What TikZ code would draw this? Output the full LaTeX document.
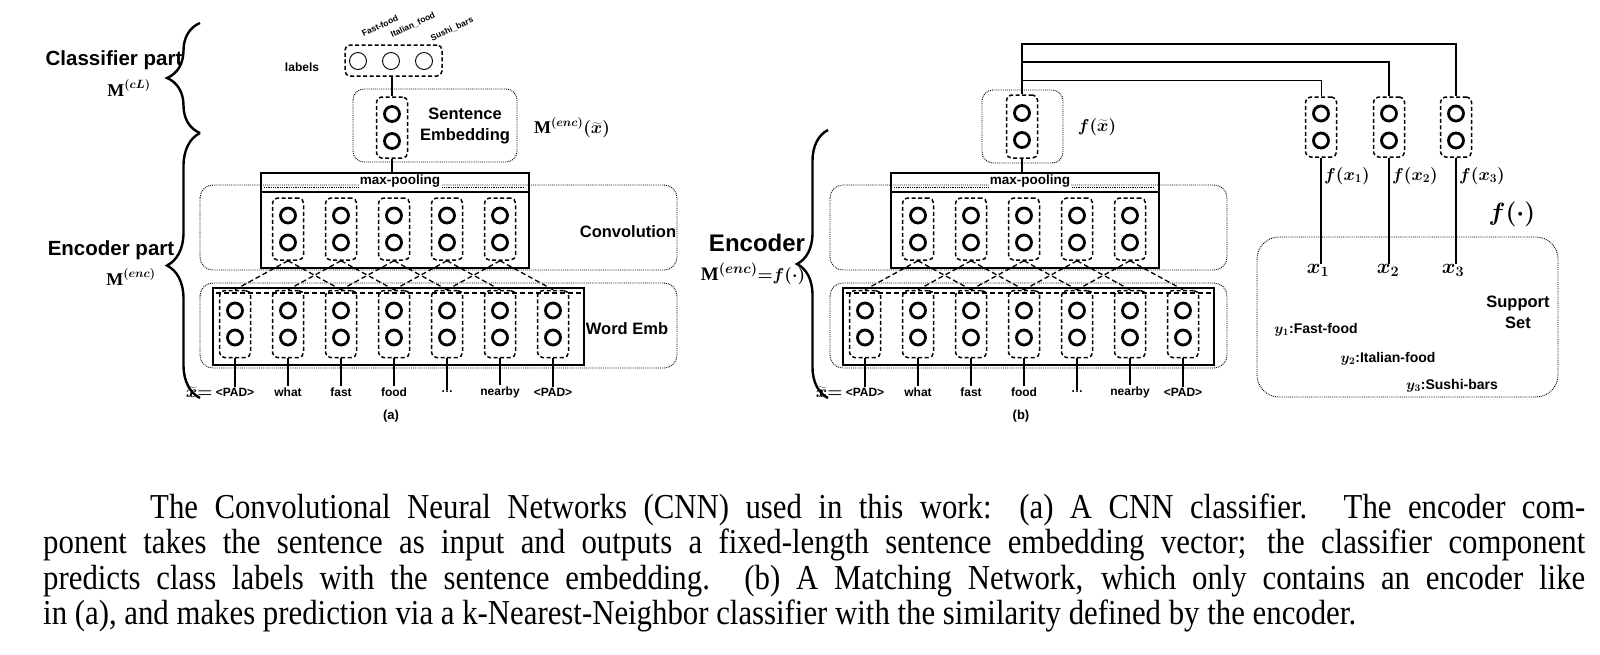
\documentclass[tikz,border=0pt]{standalone}
\usepackage{fontspec}
\setmainfont{Liberation Serif}
\setsansfont{Liberation Sans}
\newfontfamily\capfont[FakeStretch=0.88]{Liberation Serif}
\usetikzlibrary{calc,decorations.pathreplacing}

\tikzset{
  outerbox/.style={draw, densely dotted, line width=0.9pt, rounded corners=13pt},
  colbox/.style={draw, dash pattern=on 4pt off 2.5pt, line width=1.5pt, rounded corners=5pt, minimum width=31pt, inner sep=0pt},
  neuron/.style={circle, draw, line width=2.8pt, minimum size=15pt, inner sep=0pt},
  labcirc/.style={circle, draw, line width=0.9pt, minimum size=17pt, inner sep=0pt},
  layerrect/.style={draw, line width=2.2pt, inner sep=0pt},
  link/.style={line width=1.8pt},
  fan/.style={dash pattern=on 5pt off 3pt, line width=1.3pt},
  lbl/.style={font=\sffamily\bfseries\fontsize{16.5}{21}\selectfont, align=center, inner sep=1pt},
  tok/.style={font=\sffamily\bfseries\fontsize{12}{14}\selectfont, inner sep=1pt},
  rotlbl/.style={font=\sffamily\bfseries\fontsize{8.5}{10}\selectfont, inner sep=0pt, rotate=25},
  part/.style={font=\sffamily\bfseries\fontsize{20.5}{24}\selectfont, inner sep=0pt},
  mlbl/.style={font=\boldmath\fontsize{18}{22}\selectfont, inner sep=0pt},
  bigbrace/.style={decorate, decoration={brace, amplitude=#1}, line width=2.4pt},
  captxt/.style={font=\capfont\fontsize{35}{35}\selectfont, inner sep=0pt, anchor=base west},
}

% a dashed column holding two units
\newcommand{\unitcol}[4]{%
  \node[colbox, minimum height=#4] (#1) at (#2,#3) {};
  \node[neuron] (#1-u) at (#2,#3-13.5) {};
  \node[neuron] (#1-d) at (#2,#3+13.5) {};
}
\newcommand{\Mb}{\textbf{M}}

\begin{document}
\begin{tikzpicture}[x=1pt, y=-1pt]
\useasboundingbox (0,0) rectangle (1600,654);

% encoder, drawn for (a) and (b)
\foreach \p/\dx/\rx in {a/0/677, b/630/597} {
\begin{scope}[xshift=\dx]
  \draw[outerbox] (200,185) rectangle (\rx,270);
  \draw[outerbox] (200,283) rectangle (\rx,368);
  \node[layerrect, anchor=north west, minimum width=268, minimum height=19] (\p-pool) at (260,172) {};
  \draw[densely dotted, line width=0.8pt] (264,187) -- (524,187);
  \node[tok, fill=white, font=\sffamily\bfseries\fontsize{13.5}{14}\selectfont] (\p-pooltxt) at (400,181) {max-pooling};
  \node[layerrect, anchor=north west, minimum width=268, minimum height=76] (\p-conv) at (260,191) {};
  \node[layerrect, anchor=north west, minimum width=371, minimum height=77] (\p-wemb) at (212,287) {};
  \draw[fan] ($(\p-wemb.north west)+(4,6)$) -- ($(\p-wemb.north east)+(-4,6)$);
  \foreach \i/\w in {0/{<PAD>},1/what,2/fast,3/food,4/{\ldots},5/nearby,6/{<PAD>}} {
    \unitcol{\p-w\i}{235+53*\i}{324}{67}
    \node[tok] (\p-t\i) at (235+53*\i,392) {\w};
    \draw[link] (\p-w\i.south) -- (\p-t\i.north);
  }
  \node[tok, anchor=east, font=\boldmath\fontsize{17}{18}\selectfont, inner sep=0pt] (\p-xt) at ([xshift=-2pt]\p-t0.west) {$\widetilde{x}{=}$};
  \foreach \i in {1,...,5} {\unitcol{\p-c\i}{235+53*\i}{229}{62}}
  \foreach \i in {1,...,5} {
    \pgfmathtruncatemacro{\l}{\i-1}
    \pgfmathtruncatemacro{\r}{\i+1}
    \draw[fan] (\p-c\i.south) -- (\p-w\l.north);
    \draw[fan] (\p-c\i.south) -- (\p-w\r.north);
  }
  \node[tok, font=\sffamily\bfseries\fontsize{13}{14}\selectfont] (\p-name) at (391,416) {(\p)};
\end{scope}
}

% (a) classifier
\draw[outerbox, rounded corners=11pt] (353,89) rectangle (517,162);
\unitcol{emb}{392}{127.5}{61}
\node[lbl] (embtxt) at (465,126) {Sentence\\Embedding};
\node[mlbl] (encx) at (572,128) {$\Mb^{(enc)}(\widetilde{x})$};
\draw[link] (emb.south) -- (emb.south |- a-pool.north);
\node[draw, dash pattern=on 4pt off 2.5pt, line width=1.5pt, rounded corners=5pt, minimum width=97, minimum height=31] (lab) at (393.5,60.5) {};
\foreach \k/\cx/\tx/\ty/\cls in {1/358/380/26/Fast-food, 2/391/413/25/Italian\_food, 3/424/452/29/Sushi\_bars} {
  \node[labcirc] (lab\k) at (\cx,61) {};
  \node[rotlbl] (cls\k) at (\tx,\ty) {\cls};
}
\draw[link] (emb.north) -- (emb.north |- lab.south);
\node[tok] (labtxt) at (302,67) {labels};
\node[lbl] (convtxt) at (628,232) {Convolution};
\node[lbl] (wembtxt) at (627,329) {Word Emb};
\draw[bigbrace=33pt] (200,133) -- (200,23);
\draw[bigbrace=33pt] (200,398) -- (200,133);
\node[part] (clspart) at (114,60) {Classifier part};
\node[mlbl] (mcl) at (129,88) {$\Mb^{(cL)}$};
\node[part] (encpart) at (111,250) {Encoder part};
\node[mlbl] (menc) at (131,277) {$\Mb^{(enc)}$};

% (b) matching network
\draw[outerbox, rounded corners=11pt] (982,90) rectangle (1063,163);
\unitcol{fx}{1022}{126.5}{63}
\node[mlbl] (fxtxt) at (1097,127) {$f(\widetilde{x})$};
\draw[link] (fx.south) -- (fx.south |- b-pool.north);
\foreach \k/\cx in {1/1321, 2/1389, 3/1456} {\unitcol{s\k}{\cx}{127}{60}}
\coordinate (bus1) at (0,44);
\coordinate (bus2) at (0,62);
\coordinate (bus3) at (0,80);
\draw[line width=1.7pt] (fx.north) -- (fx.north |- bus1) -| (s3.north);
\draw[line width=2.6pt] (fx.north |- bus2) -| (s2.north);
\draw[line width=0.9pt] (fx.north |- bus3) -| (s1.north);
\draw[outerbox, rounded corners=22pt] (1257,237) rectangle (1558,397);
\foreach \k/\cx in {1/1318, 2/1388, 3/1453} {
  \node[font=\boldmath\fontsize{22}{24}\selectfont, inner sep=0pt] (x\k) at (\cx,270) {$x_\k$};
  \draw[link] (s\k.south) -- (s\k.south |- x\k.north);
  \node[mlbl, anchor=west] (fx\k) at ($(s\k.south)+(3,18)$) {$f(x_\k)$};
}
\node[font=\boldmath\fontsize{26}{28}\selectfont, inner sep=0pt] (fdot) at (1512,214) {$f(\cdot)$};
\node[lbl] (suptxt) at (1518,312) {Support\\Set};
\node[tok, font=\sffamily\bfseries\boldmath\fontsize{14}{16}\selectfont] (y1) at (1316,330) {$y_1$:Fast-food};
\node[tok, font=\sffamily\bfseries\boldmath\fontsize{14}{16}\selectfont] (y2) at (1388,359) {$y_2$:Italian-food};
\node[tok, font=\sffamily\bfseries\boldmath\fontsize{14}{16}\selectfont] (y3) at (1452,386) {$y_3$:Sushi-bars};
\draw[bigbrace=31pt] (828,398) -- (828,130);
\node[part, font=\sffamily\bfseries\fontsize{24}{28}\selectfont] (encb) at (757,243) {Encoder};
\node[mlbl, font=\boldmath\fontsize{19}{22}\selectfont] (mencb) at (753,274) {$\Mb^{(enc)}{=}f(\cdot)$};

% caption
\node[captxt] (cap1) at (150,518) {\makebox[1435pt][s]{The Convolutional Neural Networks (CNN) used in this work: (a) A CNN classifier. The encoder com-}};
\node[captxt] (cap2) at (43,553.5) {\makebox[1542pt][s]{ponent takes the sentence as input and outputs a fixed-length sentence embedding vector; the classifier component}};
\node[captxt] (cap3) at (43,589) {\makebox[1542pt][s]{predicts class labels with the sentence embedding. (b) A Matching Network, which only contains an encoder like}};
\node[captxt] (cap4) at (43,624.5) {in (a), and makes prediction via a k-Nearest-Neighbor classifier with the similarity defined by the encoder.};
\end{tikzpicture}
\end{document}
